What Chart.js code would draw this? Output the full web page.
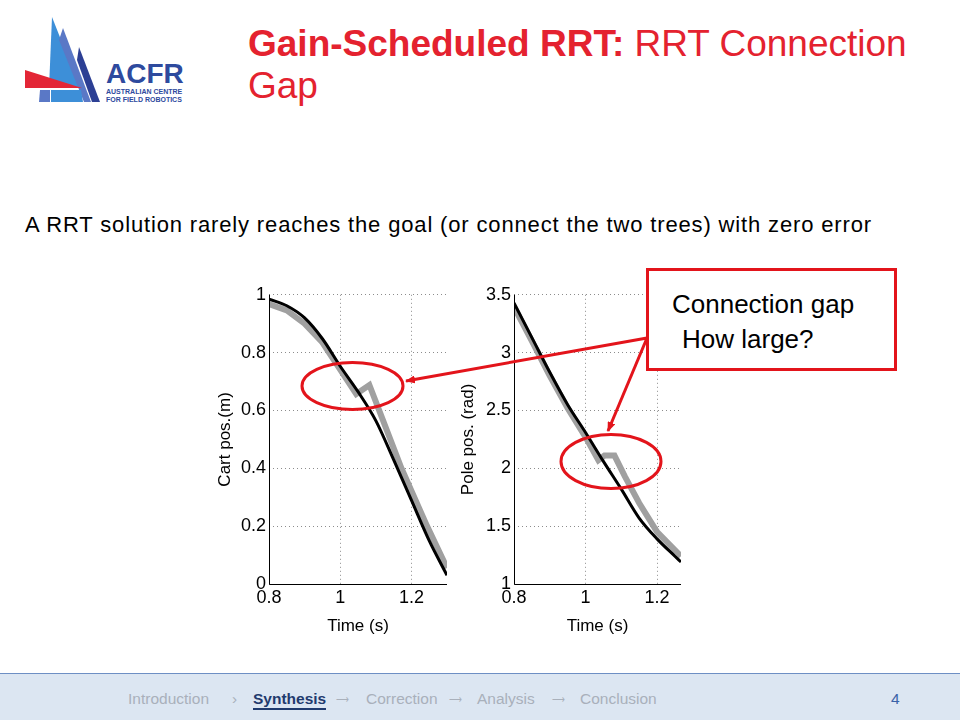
<!DOCTYPE html>
<html lang="en">
<head>
    <meta charset="UTF-8">
    <title>RRT Connection Gap</title>
    <script src="https://cdn.jsdelivr.net/npm/chart.js@4.4.0/dist/chart.umd.min.js"></script>
    <style>
        body { margin: 0; width: 960px; height: 720px; background: #fff; position: relative; overflow: hidden;
               font-family: "Liberation Sans", Arial, sans-serif; }
        .abs { position: absolute; white-space: nowrap; }
        .title { left: 248px; top: 23px; font-size: 37px; line-height: 42px; color: #e4222f; }
        .body-text { left: 25px; top: 214px; font-size: 22px; line-height: 1; letter-spacing: 0.85px; color: #000; }
        canvas { position: absolute; }
        #cartChart { left: 215px; top: 281px; }
        #poleChart { left: 458px; top: 281px; }
        .gap-box { left: 646px; top: 268px; width: 245px; height: 97px; border: 3px solid #e3141b; background: #fff; }
        .gap-text { font-size: 26px; line-height: 1; color: #000; }
        .footer { left: 0; top: 673px; width: 960px; height: 47px; background: #dce6f2; border-top: 1px solid #6d8fc4; }
        .nav { top: 691px; font-size: 15.5px; line-height: 1; color: #a9b0bb; }
        .nav.current { color: #1f3a6e; font-weight: bold; border-bottom: 2px solid #1f3a6e; padding-bottom: 1px; }
        .nav.arrow { font-size: 9px; top: 695px; }
        #overlay { position: absolute; left: 0; top: 0; }
    </style>
</head>
<body>
    <!-- logo -->
    <svg class="abs" style="left:0;top:0" width="200" height="110">
        <polygon points="52,17 49,88 80,88" fill="#3d8fd8"/>
        <polygon points="63,28 91,102 84,102 59,40" fill="#5a78c6"/>
        <polygon points="79,47 100,102 92,102 77,60" fill="#2c3f94"/>
        <polygon points="25,70 25,88 82,88" fill="#e32636"/>
        <polygon points="40,90 50,90 50,102 39,102" fill="#5a78c6"/>
        <polygon points="51,90 81,90 83,102 51,102" fill="#3d8fd8"/>
        <text x="106" y="83" font-family="Liberation Sans" font-weight="bold" font-size="28" fill="#2e4a9e">ACFR</text>
        <text x="106" y="94" font-family="Liberation Sans" font-weight="bold" font-size="7" fill="#2e4a9e">AUSTRALIAN CENTRE</text>
        <text x="106" y="101.5" font-family="Liberation Sans" font-weight="bold" font-size="7" fill="#2e4a9e">FOR FIELD ROBOTICS</text>
    </svg>

    <div class="abs title"><b>Gain-Scheduled RRT:</b> RRT Connection<br>Gap</div>
    <div class="abs body-text">A RRT solution rarely reaches the goal (or connect the two trees) with zero error</div>

    <canvas id="cartChart" width="240" height="356"></canvas>
    <canvas id="poleChart" width="232" height="356"></canvas>

    <div class="abs gap-box"></div>
    <div class="abs gap-text" style="left:672px;top:291px">Connection gap</div>
    <div class="abs gap-text" style="left:682px;top:326px">How large?</div>

    <svg id="overlay" width="960" height="720">
        <defs>
            <marker id="head" markerWidth="10" markerHeight="8" refX="9" refY="4" orient="auto" markerUnits="userSpaceOnUse">
                <polygon points="0,0 10,4 0,8" fill="#e3141b"/>
            </marker>
        </defs>
        <ellipse cx="352.5" cy="386" rx="50.5" ry="23.5" fill="none" stroke="#e3141b" stroke-width="3"/>
        <ellipse cx="611" cy="461.5" rx="50" ry="27" fill="none" stroke="#e3141b" stroke-width="3"/>
        <line x1="647" y1="338" x2="406" y2="381" stroke="#e3141b" stroke-width="3" marker-end="url(#head)"/>
        <line x1="647" y1="338" x2="608" y2="431" stroke="#e3141b" stroke-width="3" marker-end="url(#head)"/>
    </svg>

    <div class="abs footer"></div>
    <span class="abs nav" style="left:128px">Introduction</span>
    <span class="abs nav" style="left:232px">›</span>
    <span class="abs nav current" style="left:253px">Synthesis</span>
    <span class="abs nav arrow" style="left:336px">⟶</span>
    <span class="abs nav" style="left:366px">Correction</span>
    <span class="abs nav arrow" style="left:449px">⟶</span>
    <span class="abs nav" style="left:477px">Analysis</span>
    <span class="abs nav arrow" style="left:552px">⟶</span>
    <span class="abs nav" style="left:580px">Conclusion</span>
    <span class="abs nav" style="left:891px;color:#3a62a8">4</span>

    <script>
        // cart position, reference (black) and RRT solution (grey)
        var cartTime = [0.8, 0.85, 0.9, 0.95, 1.0, 1.05, 1.1, 1.15, 1.2, 1.25, 1.3];
        var cartRef = [0.985, 0.962, 0.92, 0.848, 0.753, 0.665, 0.565, 0.43, 0.29, 0.15, 0.03];
        var cartRrtTime = [0.8, 0.85, 0.9, 0.95, 1.0, 1.045, 1.082, 1.113, 1.172, 1.244, 1.3];
        var cartRrt = [0.968, 0.946, 0.9, 0.835, 0.741, 0.657, 0.688, 0.589, 0.4, 0.2, 0.055];

        // pole angle
        var poleTime = [0.8, 0.85, 0.9, 0.95, 1.0, 1.05, 1.1, 1.15, 1.2, 1.25, 1.267];
        var poleRef = [3.43, 3.13, 2.83, 2.55, 2.31, 2.06, 1.82, 1.57, 1.39, 1.24, 1.19];
        var poleRrtTime = [0.8, 0.85, 0.9, 0.95, 1.0, 1.036, 1.053, 1.081, 1.11, 1.15, 1.2, 1.267];
        var poleRrt = [3.395, 3.1, 2.8, 2.52, 2.27, 2.07, 2.11, 2.11, 1.93, 1.7, 1.45, 1.24];

        var timeTicks = [0.8, 1, 1.2];
        var cartTicks = [0, 0.2, 0.4, 0.6, 0.8, 1];
        var poleTicks = [1, 1.5, 2, 2.5, 3, 3.5];

        var fontFamily = "'Liberation Sans', Arial, sans-serif";

        function points(xs, ys) {
            return xs.map(function (x, i) { return { x: x, y: ys[i] }; });
        }

        function drawChart(id, refT, refY, rrtT, rrtY, yTicks, xMax, yTitle, yWidth, padRight) {
            var ctx = document.getElementById(id).getContext('2d');
            return new Chart(ctx, {
                type: 'line',
                data: {
                    datasets: [{
                        data: points(refT, refY),
                        borderColor: '#000',
                        borderWidth: 3,
                        cubicInterpolationMode: 'monotone',
                        pointRadius: 0
                    }, {
                        data: points(rrtT, rrtY),
                        borderColor: '#a0a0a0',
                        borderWidth: 6,
                        tension: 0,
                        pointRadius: 0
                    }]
                },
                options: {
                    responsive: false,
                    animation: false,
                    layout: { padding: { top: 10, right: padRight } },
                    plugins: { legend: { display: false }, tooltip: { enabled: false } },
                    scales: {
                        x: {
                            type: 'linear', min: 0.8, max: xMax,
                            afterBuildTicks: function (s) { s.ticks = timeTicks.map(function (v) { return { value: v }; }); },
                            afterFit: function (s) { s.height = 53; },
                            grid: { color: '#8c8c8c', lineWidth: 1, drawTicks: false },
                            border: { display: false, dash: [1, 3] },
                            ticks: { color: '#000', font: { family: fontFamily, size: 18 }, padding: 3, maxRotation: 0,
                                     callback: function (v) { return String(v); } },
                            title: { display: true, text: 'Time (s)', color: '#000', font: { family: fontFamily, size: 17 },
                                     padding: { top: 0, bottom: 0 } }
                        },
                        y: {
                            type: 'linear', min: yTicks[0], max: yTicks[yTicks.length - 1],
                            afterBuildTicks: function (s) { s.ticks = yTicks.map(function (v) { return { value: v }; }); },
                            afterFit: function (s) { s.width = yWidth; },
                            grid: { color: '#8c8c8c', lineWidth: 1, drawTicks: false },
                            border: { display: false, dash: [1, 3] },
                            ticks: { color: '#000', font: { family: fontFamily, size: 18 }, padding: 3,
                                     callback: function (v) { return String(v); } },
                            title: { display: true, text: yTitle, color: '#000', font: { family: fontFamily, size: 17 },
                                     padding: { top: 0, bottom: 0 } }
                        }
                    }
                },
                plugins: [{
                    // solid left and bottom axis lines, like the matlab figure
                    id: 'axisLines',
                    afterDraw: function (chart) {
                        var a = chart.chartArea, c = chart.ctx;
                        c.save();
                        c.strokeStyle = '#000';
                        c.lineWidth = 1;
                        c.beginPath();
                        c.moveTo(a.left + 0.5, a.top);
                        c.lineTo(a.left + 0.5, a.bottom + 0.5);
                        c.lineTo(a.right, a.bottom + 0.5);
                        c.stroke();
                        c.restore();
                    }
                }]
            });
        }

        drawChart('cartChart', cartTime, cartRef, cartRrtTime, cartRrt, cartTicks, 1.3, 'Cart pos.(m)', 54, 8);
        drawChart('poleChart', poleTime, poleRef, poleRrtTime, poleRrt, poleTicks, 1.267, 'Pole pos. (rad)', 56, 9);
    </script>
</body>
</html>
